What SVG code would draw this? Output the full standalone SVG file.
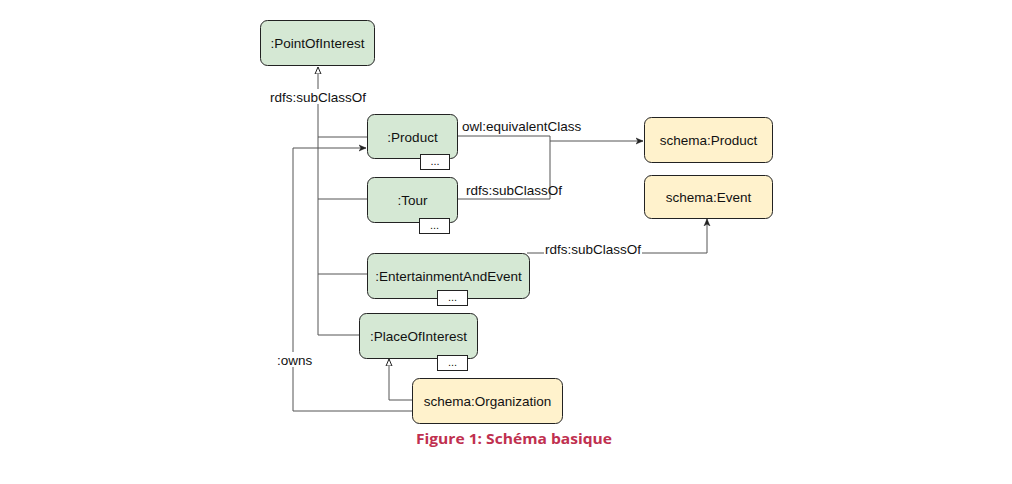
<svg xmlns="http://www.w3.org/2000/svg" width="1012" height="484" viewBox="0 0 1012 484">
<style>
.g{fill:#d5e8d4;stroke:#222;stroke-width:1}
.y{fill:#fff2cc;stroke:#222;stroke-width:1}
.d{fill:#fff;stroke:#222;stroke-width:1}
.t{font-family:"Liberation Sans",Arial,sans-serif;font-size:13.5px;fill:#111;text-anchor:middle}
.l{font-family:"Liberation Sans",Arial,sans-serif;font-size:13.5px;fill:#111}
.c{fill:none;stroke:#555;stroke-width:1}
.dots{font-family:"Liberation Sans",Arial,sans-serif;font-size:11px;fill:#111;text-anchor:middle}
</style>
<defs>
<marker id="hollow" markerWidth="8" markerHeight="8" refX="7" refY="4" orient="auto" markerUnits="userSpaceOnUse">
<path d="M0,1 L7,4 L0,7 Z" fill="#fff" stroke="#222" stroke-width="1"/>
</marker>
<marker id="filled" markerWidth="8" markerHeight="8" refX="7" refY="4" orient="auto" markerUnits="userSpaceOnUse">
<path d="M0,1 L7,4 L0,7 L2,4 Z" fill="#222" stroke="#222" stroke-width="0.5"/>
</marker>
</defs>
<rect width="1012" height="484" fill="#fff"/>
<g id="connectors">
<path class="c" d="M318,335 L318,67" marker-end="url(#hollow)"/>
<path class="c" d="M318,137 L367,137"/>
<path class="c" d="M318,199 L367,199"/>
<path class="c" d="M318,274 L367,274"/>
<path class="c" d="M318,335 L359,335"/>
<path class="c" d="M412,411 L293,411 L293,148 L366,148" marker-end="url(#filled)"/>
<path class="c" d="M389,400 L389,359" marker-end="url(#hollow)"/>
<path class="c" d="M412,400 L389,400"/>
<path class="c" d="M457,136 L550,136 L550,141"/>
<path class="c" d="M457,199 L550,199 L550,141 L643,141" marker-end="url(#filled)"/>
<path class="c" d="M527,253 L707,253 L707,219" marker-end="url(#filled)"/>
<rect x="269" y="89" width="98" height="15" fill="#fff"/>
<text class="l" x="270" y="102">rdfs:subClassOf</text>
<rect x="461" y="118" width="122" height="15" fill="#fff"/>
<text class="l" x="462" y="131">owl:equivalentClass</text>
<text class="l" x="466" y="195">rdfs:subClassOf</text>
<rect x="544" y="242" width="98" height="15" fill="#fff"/>
<text class="l" x="545" y="254">rdfs:subClassOf</text>
<rect x="276" y="352" width="38" height="15" fill="#fff"/>
<text class="l" x="277" y="365">:owns</text>
</g>
<g id="pointofinterest">
<rect class="g" x="260.5" y="20.5" width="114" height="45" rx="7"/>
<text class="t" x="317.5" y="48">:PointOfInterest</text>
</g>
<g id="product">
<rect class="g" x="367.5" y="114.5" width="90" height="44" rx="7"/>
<text class="t" x="412.5" y="142">:Product</text>
<rect class="d" x="420.5" y="154.5" width="29" height="15"/>
<text class="dots" x="435" y="165">...</text>
</g>
<g id="tour">
<rect class="g" x="367.5" y="177.5" width="90" height="45" rx="7"/>
<text class="t" x="412.5" y="205">:Tour</text>
<rect class="d" x="419.5" y="218.5" width="30" height="15"/>
<text class="dots" x="434.5" y="229">...</text>
</g>
<g id="entertainment">
<rect class="g" x="367.5" y="253.5" width="162" height="45" rx="7"/>
<text class="t" x="448.5" y="281">:EntertainmentAndEvent</text>
<rect class="d" x="437.5" y="290.5" width="30" height="15"/>
<text class="dots" x="452.5" y="301">...</text>
</g>
<g id="placeofinterest">
<rect class="g" x="359.5" y="313.5" width="118" height="45" rx="7"/>
<text class="t" x="418.5" y="341">:PlaceOfInterest</text>
<rect class="d" x="437.5" y="355.5" width="30" height="15"/>
<text class="dots" x="452.5" y="366">...</text>
</g>
<g id="organization">
<rect class="y" x="412.5" y="378.5" width="150" height="45" rx="7"/>
<text class="t" x="487.5" y="406">schema:Organization</text>
</g>
<g id="schemaproduct">
<rect class="y" x="644.5" y="117.5" width="128" height="45" rx="7"/>
<text class="t" x="708.5" y="145">schema:Product</text>
</g>
<g id="schemaevent">
<rect class="y" x="644.5" y="175.5" width="128" height="43" rx="7"/>
<text class="t" x="708.5" y="202">schema:Event</text>
</g>
<text x="514" y="444" font-family="'Open Sans','Liberation Sans',sans-serif" font-weight="bold" font-size="15" fill="#c0304f" text-anchor="middle" textLength="196" lengthAdjust="spacingAndGlyphs">Figure 1: Schéma basique</text>
</svg>
